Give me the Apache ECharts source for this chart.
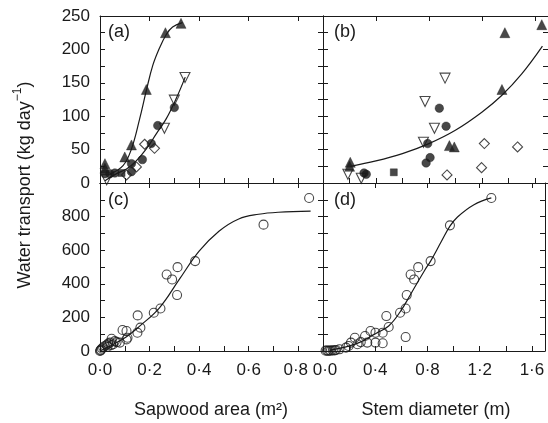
<!DOCTYPE html>
<html>
<head>
<meta charset="utf-8">
<script src="https://cdn.jsdelivr.net/npm/echarts@6/dist/echarts.min.js"></script>
<style>
html,body{margin:0;padding:0;background:#fff;}
#chart{width:548px;height:423px;}
</style>
</head>
<body>
<div id="chart"></div>
<script>
// ---------- Data ----------
// Panel (a): water transport vs sapwood area (m2)
const aFilledTriangles = [[0.02,29],[0.02,22],[0.1,39],[0.127,57],[0.187,140],[0.264,225],[0.327,239]];
const aOpenTriangles   = [[0.027,5],[0.26,82],[0.3,124],[0.343,158]];
const aFilledCircles   = [[0.02,14],[0.04,14],[0.06,15],[0.127,17],[0.127,29],[0.171,35],[0.207,59],[0.233,86],[0.3,113]];
const aOpenDiamonds    = [[0.107,12],[0.147,24],[0.18,58],[0.22,52]];
const aFilledSquares   = [[0.087,15]];
const aCurve1 = [[0.04,13.5],[0.093,26],[0.127,51],[0.16,96],[0.187,138.5],[0.213,176],[0.24,202],[0.267,222],[0.293,233.5],[0.333,240]];
const aCurve2 = [[0.02,3.5],[0.067,14],[0.107,21],[0.147,33.5],[0.187,51],[0.227,73.5],[0.267,96],[0.307,126],[0.344,158.5]];

// Panel (b): water transport vs stem diameter (m)
const bFilledTriangles = [[0.206,31],[0.201,25],[0.955,56],[0.992,54],[1.352,140],[1.374,225],[1.653,237]];
const bOpenTriangles   = [[0.188,13],[0.289,7],[0.759,61],[0.842,82],[0.771,122],[0.922,157]];
const bFilledCircles   = [[0.327,13],[0.31,15],[0.779,30],[0.809,38],[0.791,59],[0.93,85],[0.879,112]];
const bOpenDiamonds    = [[0.937,12],[1.198,23],[1.219,59],[1.47,54]];
const bFilledSquares   = [[0.535,16]];
const bCurve = [[0.206,25],[0.4,33],[0.6,44],[0.8,59],[1.0,79],[1.2,106],[1.35,131],[1.5,163],[1.658,205]];

// Panel (c): all trees, sapwood area
const cCircles = [[0.844,911],[0.66,752],[0.384,535],[0.313,499],[0.269,455],[0.291,426],[0.311,333],[0.244,253],
  [0.217,228],[0.152,212],[0.163,139],[0.151,109],[0.107,119],[0.091,125],[0.111,79],[0.107,69],[0.08,50],
  [0.067,53],[0.047,73],[0.053,40],[0.04,50],[0.033,44],[0.027,36],[0.02,30],[0.013,22],[0.008,15],[0.004,8],
  [0.002,4],[0,0],[0.06,59],[0.045,35],[0.03,25]];
const cCurve = [[0,0],[0.053,39],[0.107,85],[0.16,148],[0.24,257],[0.32,426],[0.4,594],[0.48,713],[0.56,786],[0.64,814],[0.72,826],[0.85,832]];

// Panel (d): all trees, stem diameter
const dCircles = [[1.289,911],[0.972,748],[0.824,535],[0.729,499],[0.671,455],[0.698,426],[0.641,333],[0.633,253],
  [0.59,228],[0.485,208],[0.503,143],[0.633,83],[0.457,109],[0.457,46],[0.402,109],[0.364,119],[0.402,50],
  [0.322,89],[0.339,50],[0.244,79],[0.289,53],[0.264,40],[0.214,50],[0.196,30],[0.176,20],[0.126,10],[0.1,6],
  [0.075,4],[0.05,3],[0.03,3],[0.02,2],[0.06,2],[0.09,4],[0.04,1]];
const dCurve = [[0.05,4],[0.151,20],[0.276,50],[0.402,103],[0.503,149],[0.59,232],[0.678,347],[0.779,481],[0.824,535],
  [0.905,650],[0.972,743],[1.03,798],[1.156,871],[1.289,911]];

const panelLabels = ['(a)','(b)','(c)','(d)'];
const xTitleLeft = 'Sapwood area (m\u00B2)';
const xTitleRight = 'Stem diameter (m)';

// ---------- Styling / layout ----------
const FONT = '"Liberation Sans", Arial, Helvetica, sans-serif';
const INK = '#1a1a1a';
const grids = [
  {left:100, top:16,  width:223, height:167},
  {left:323, top:16,  width:225, height:167},
  {left:100, top:183, width:223, height:168},
  {left:323, top:183, width:225, height:168}
];
const dot = s => s.replace('.', '\u00B7');
const fmtXL = v => { const k = Math.round(v*10);
  if (k%2!==0 || k>8) return '';
  const s = dot((k/10).toFixed(1));
  return k===8 ? '{r|'+s+'}' : s; };
const fmtXR = v => { const k = Math.round(v*10);
  if (k%4!==0 || k>16) return '';
  const s = dot((k/10).toFixed(1));
  return k===0 ? '{l|'+s+'}' : s; };
const fmtYT = v => { const k = Math.round(v); return k%50===0 ? String(k) : ''; };
const fmtYB = v => { const k = Math.round(v); return (k%200===0 && k<1000) ? String(k) : ''; };

const lineStyle = {color: INK, width: 1};
const labRich = {r:{padding:[0,5,0,0], fontFamily:FONT, fontSize:17, color:INK},
                 l:{padding:[0,0,0,4], fontFamily:FONT, fontSize:17, color:INK}};
function xAx(g, min, max, interval, pos, fmt) {
  return {type:'value', gridIndex:g, min, max, interval, position:pos,
    axisLine:{show:true, onZero:false, lineStyle},
    axisTick:{show:true, inside:true, length:5, lineStyle},
    axisLabel:{show:!!fmt, formatter:fmt||'', color:INK, fontFamily:FONT, fontSize:17, margin:11, rich:labRich},
    splitLine:{show:false}};
}
function yAx(g, min, max, interval, pos, fmt) {
  return {type:'value', gridIndex:g, min, max, interval, position:pos,
    axisLine:{show:true, onZero:false, lineStyle},
    axisTick:{show:true, inside:true, length:5, lineStyle},
    axisLabel:{show:!!fmt, formatter:fmt||'', color:INK, fontFamily:FONT, fontSize:17, margin:10},
    splitLine:{show:false}};
}
const xAxis = [
  xAx(0,0,0.9,0.1,'bottom',null),   // 0
  xAx(1,0,1.7,0.2,'bottom',null),   // 1
  xAx(2,0,0.9,0.1,'bottom',fmtXL),  // 2
  xAx(3,0,1.7,0.2,'bottom',fmtXR),  // 3
  xAx(0,0,0.9,0.2,'top',null),
  xAx(1,0,1.7,0.4,'top',null),
  xAx(2,0,0.9,0.2,'top',null),
  xAx(3,0,1.7,0.4,'top',null)
];
const yAxis = [
  yAx(0,0,250,25,'left',fmtYT),
  yAx(1,0,250,25,'left',null),
  yAx(2,0,1000,100,'left',fmtYB),
  yAx(3,0,1000,100,'left',null),
  yAx(0,0,250,25,'right',null),
  yAx(1,0,250,25,'right',null),
  yAx(2,0,1000,100,'right',null),
  yAx(3,0,1000,100,'right',null)
];

function sc(i, data, symbol, size, filled, rotate) {
  return {type:'scatter', xAxisIndex:i, yAxisIndex:i, data, symbol, symbolSize:size,
    symbolRotate: rotate||0, silent:true, z:3,
    itemStyle: filled ? {color:INK, borderColor:INK, borderWidth:0.5}
                      : {color:'rgba(255,255,255,0)', borderColor:INK, borderWidth:1.1}};
}
function ln(i, data) {
  return {type:'line', xAxisIndex:i, yAxisIndex:i, data, smooth:0.4, showSymbol:false, silent:true, z:2,
    lineStyle:{color:INK, width:1.2}};
}
const series = [
  ln(0,aCurve1), ln(0,aCurve2),
  sc(0,aFilledTriangles,'triangle',10,true),
  sc(0,aOpenTriangles,'triangle',10,false,180),
  sc(0,aFilledCircles,'circle',8.5,true),
  sc(0,aOpenDiamonds,'diamond',10,false),
  sc(0,aFilledSquares,'rect',7,true),
  ln(1,bCurve),
  sc(1,bFilledTriangles,'triangle',10,true),
  sc(1,bOpenTriangles,'triangle',10,false,180),
  sc(1,bFilledCircles,'circle',8.5,true),
  sc(1,bOpenDiamonds,'diamond',10,false),
  sc(1,bFilledSquares,'rect',7,true),
  ln(2,cCurve),
  sc(2,cCircles,'circle',9,false),
  ln(3,dCurve),
  sc(3,dCircles,'circle',9,false)
];

const labelPos = [[108,32],[334,32],[108,200],[334,200]];
const graphic = panelLabels.map((t,i)=>({type:'text', x:labelPos[i][0], y:labelPos[i][1], z:10,
  style:{text:t, font:'18px '+FONT, fill:INK, verticalAlign:'middle', align:'left'}}));
graphic.push({type:'text', x:211, y:410, style:{text:xTitleLeft, font:'18px '+FONT, fill:INK, align:'center', verticalAlign:'middle'}});
graphic.push({type:'text', x:436, y:410, style:{text:xTitleRight, font:'18px '+FONT, fill:INK, align:'center', verticalAlign:'middle'}});
graphic.push({type:'text', x:23, y:185, rotation:Math.PI/2,
  style:{text:'{n|Water transport (kg day}{s|\u22121}{n|)}', fill:INK, align:'center', verticalAlign:'middle',
    rich:{n:{fontFamily:FONT, fontSize:18, lineHeight:22, fill:INK, verticalAlign:'bottom'},
          s:{fontFamily:FONT, fontSize:12, lineHeight:14, fill:INK, verticalAlign:'top'}}}});

const chart = echarts.init(document.getElementById('chart'), null, {renderer:'canvas'});
chart.setOption({animation:false, backgroundColor:'#fff', grid:grids, xAxis, yAxis, series, graphic});
</script>
</body>
</html>
